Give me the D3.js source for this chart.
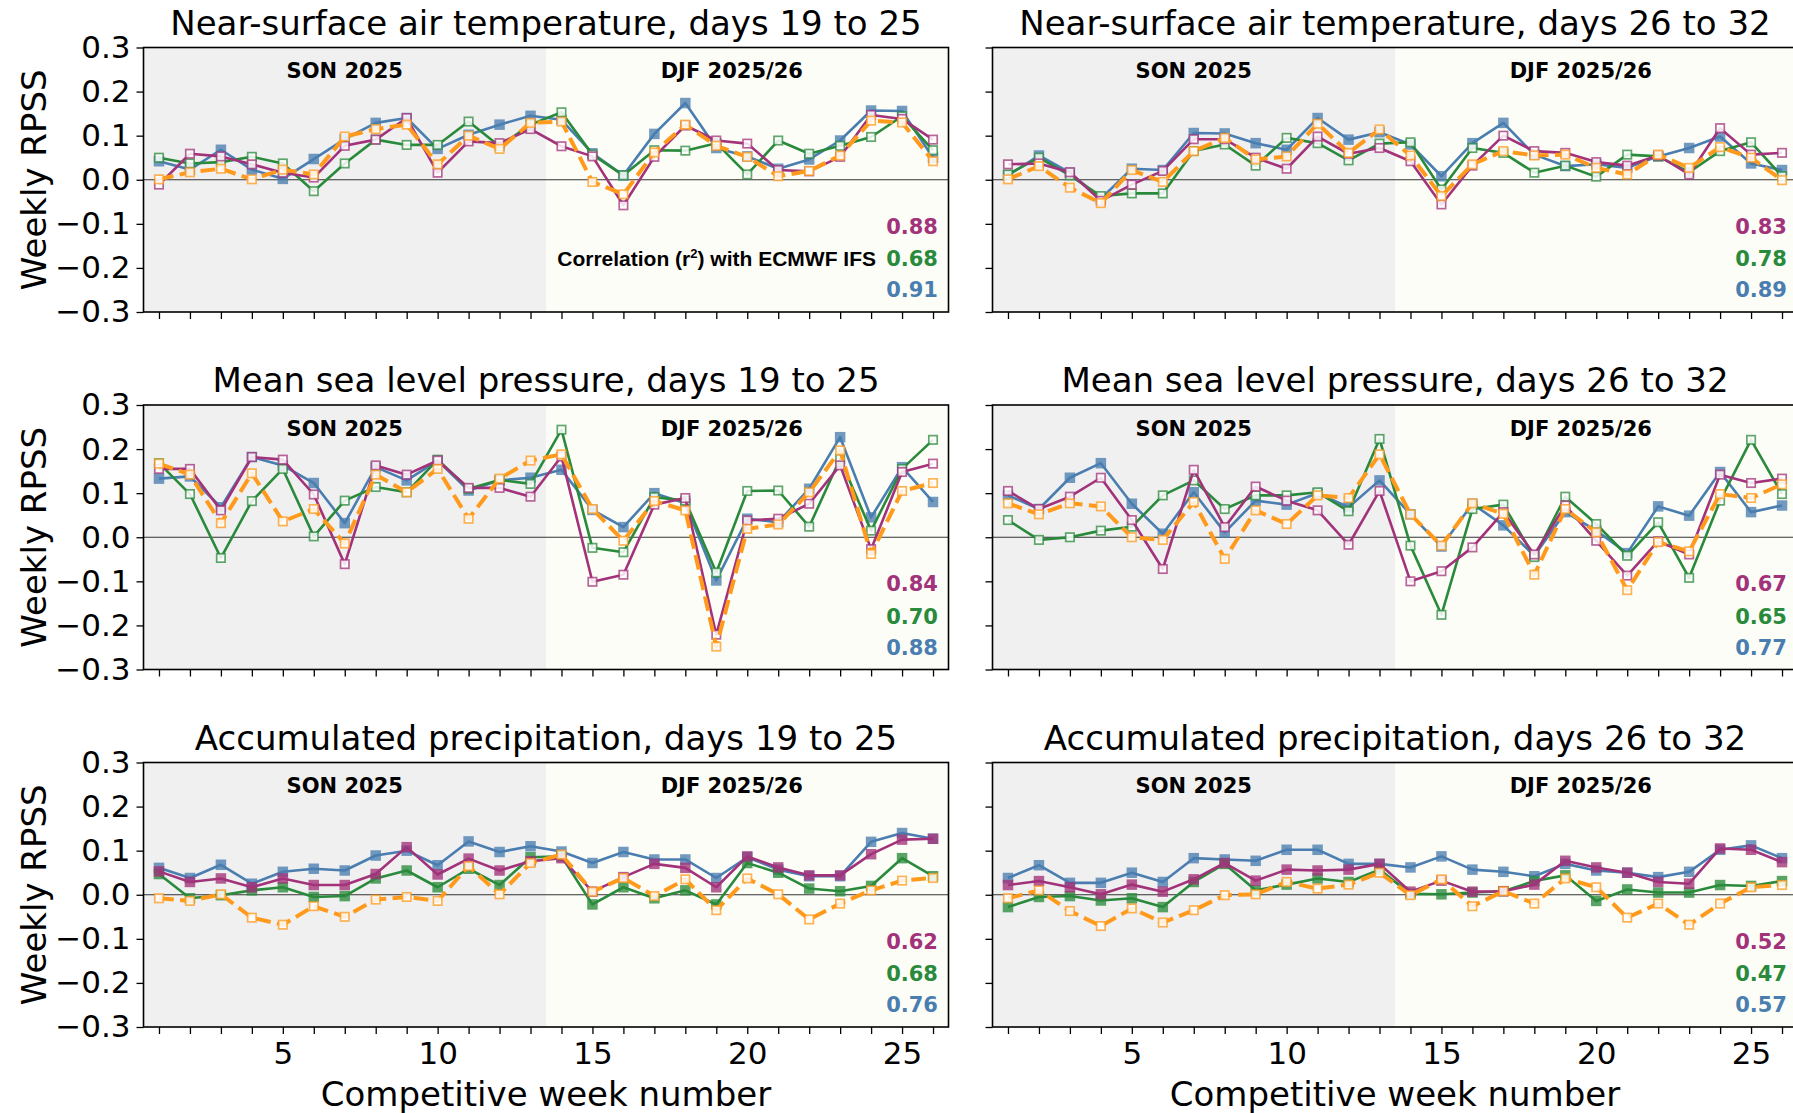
<!DOCTYPE html>
<html><head><meta charset="utf-8">
<script src="https://cdn.jsdelivr.net/npm/d3@7"></script>
<style>body{margin:0;overflow:hidden;background:#fff}</style>
</head><body>
<script>
// ---------- DATA ----------
const weeks = [1,2,3,4,5,6,7,8,9,10,11,12,13,14,15,16,17,18,19,20,21,22,23,24,25,26];
const titles = [
  "Near-surface air temperature, days 19 to 25","Near-surface air temperature, days 26 to 32",
  "Mean sea level pressure, days 19 to 25","Mean sea level pressure, days 26 to 32",
  "Accumulated precipitation, days 19 to 25","Accumulated precipitation, days 26 to 32"];
const yTicks = [-0.3,-0.2,-0.1,0.0,0.1,0.2,0.3];
const xTickLabels = [5,10,15,20,25];
const seasonLabels = ["SON 2025","DJF 2025/26"];
const seasonSplit = 13.5;

// Temperature, days 19-25
const temp1925_purple = [-0.011,0.059,0.053,0.035,0.016,0.005,0.077,0.091,0.14,0.016,0.087,0.083,0.115,0.076,0.053,-0.058,0.052,0.123,0.089,0.082,0.022,0.019,0.052,0.147,0.138,0.091];
const temp1925_green  = [0.05,0.037,0.04,0.052,0.037,-0.026,0.037,0.091,0.079,0.079,0.132,0.076,0.125,0.153,0.057,0.01,0.067,0.066,0.083,0.012,0.089,0.059,0.077,0.097,0.144,0.067];
const temp1925_blue   = [0.042,0.023,0.068,0.023,0.002,0.047,0.092,0.129,0.14,0.07,0.102,0.125,0.145,0.136,0.06,0.01,0.104,0.174,0.072,0.053,0.025,0.046,0.089,0.157,0.156,0.05];
const temp1925_orange = [0.001,0.017,0.025,0.001,0.023,0.012,0.098,0.115,0.125,0.035,0.1,0.07,0.129,0.132,-0.005,-0.033,0.062,0.125,0.077,0.052,0.008,0.02,0.055,0.134,0.13,0.042];
const temp1925_corr   = ["0.88","0.68","0.91"];

// Temperature, days 26-32
const temp2632_purple = [0.035,0.037,0.017,-0.048,-0.011,0.02,0.092,0.092,0.05,0.025,0.098,0.059,0.072,0.042,-0.056,0.032,0.1,0.065,0.061,0.04,0.032,0.055,0.012,0.117,0.057,0.061];
const temp2632_green  = [0.012,0.05,0.01,-0.037,-0.031,-0.031,0.065,0.08,0.032,0.095,0.083,0.044,0.082,0.085,-0.022,0.072,0.061,0.016,0.032,0.007,0.057,0.053,0.017,0.065,0.085,0.008];
const temp2632_blue   = [0.01,0.055,0.016,-0.043,0.025,0.022,0.106,0.105,0.083,0.068,0.14,0.091,0.108,0.08,0.008,0.083,0.129,0.057,0.031,0.035,0.027,0.053,0.072,0.098,0.037,0.022];
const temp2632_orange = [0.001,0.031,-0.018,-0.053,0.022,-0.005,0.065,0.095,0.046,0.053,0.127,0.061,0.114,0.055,-0.037,0.035,0.065,0.055,0.057,0.027,0.012,0.057,0.027,0.074,0.05,-0.001];
const temp2632_corr   = ["0.83","0.78","0.89"];

// MSLP, days 19-25
const mslp1925_purple = [0.155,0.155,0.061,0.182,0.176,0.097,-0.061,0.163,0.142,0.174,0.112,0.112,0.092,0.183,-0.101,-0.085,0.074,0.089,-0.221,0.038,0.042,0.076,0.163,-0.027,0.148,0.167];
const mslp1925_green  = [0.168,0.098,-0.047,0.082,0.155,0.002,0.083,0.114,0.102,0.176,0.11,0.13,0.121,0.244,-0.024,-0.034,0.091,0.083,-0.08,0.105,0.106,0.024,0.178,0.015,0.155,0.221];
const mslp1925_blue   = [0.133,0.138,0.068,0.182,0.163,0.123,0.032,0.159,0.129,0.174,0.106,0.129,0.135,0.153,0.062,0.023,0.1,0.077,-0.098,0.042,0.034,0.11,0.227,0.045,0.159,0.08];
const mslp1925_orange = [0.167,0.142,0.032,0.145,0.036,0.064,-0.014,0.142,0.102,0.155,0.042,0.133,0.174,0.188,0.064,-0.008,0.082,0.061,-0.248,0.019,0.029,0.102,0.197,-0.038,0.105,0.123];
const mslp1925_corr   = ["0.84","0.70","0.88"];

// MSLP, days 26-32
const mslp2632_purple = [0.105,0.064,0.092,0.135,0.039,-0.072,0.153,0.023,0.115,0.083,0.061,-0.017,0.105,-0.1,-0.077,-0.023,0.057,-0.039,0.072,-0.008,-0.087,-0.009,-0.039,0.142,0.123,0.133];
const mslp2632_green  = [0.039,-0.006,0.0,0.015,0.024,0.095,0.129,0.064,0.095,0.095,0.102,0.059,0.223,-0.019,-0.176,0.064,0.074,-0.045,0.092,0.03,-0.042,0.034,-0.092,0.083,0.221,0.098];
const mslp2632_blue   = [0.095,0.064,0.135,0.168,0.076,0.008,0.102,0.011,0.083,0.074,0.1,0.068,0.129,0.052,-0.021,0.076,0.027,-0.042,0.057,0.015,-0.036,0.07,0.049,0.148,0.057,0.072];
const mslp2632_orange = [0.077,0.052,0.077,0.07,0.0,-0.006,0.08,-0.049,0.061,0.03,0.095,0.089,0.188,0.052,-0.019,0.077,0.053,-0.085,0.064,0.011,-0.12,-0.011,-0.032,0.098,0.089,0.12];
const mslp2632_corr   = ["0.67","0.65","0.77"];

// Precipitation, days 19-25
const prec1925_purple = [0.053,0.029,0.037,0.017,0.037,0.022,0.022,0.047,0.108,0.046,0.082,0.055,0.076,0.083,0.007,0.04,0.07,0.061,0.017,0.087,0.062,0.044,0.044,0.092,0.125,0.127];
const prec1925_green  = [0.047,-0.008,-0.001,0.01,0.017,-0.005,-0.003,0.037,0.055,0.017,0.059,0.022,0.085,0.087,-0.022,0.017,-0.008,0.01,-0.022,0.072,0.05,0.014,0.008,0.02,0.083,0.042];
const prec1925_blue   = [0.061,0.038,0.068,0.025,0.052,0.059,0.055,0.089,0.1,0.067,0.121,0.097,0.11,0.098,0.072,0.097,0.08,0.08,0.038,0.085,0.057,0.042,0.042,0.12,0.14,0.127];
const prec1925_orange = [-0.008,-0.014,0.001,-0.052,-0.068,-0.026,-0.05,-0.011,-0.005,-0.014,0.065,0.001,0.072,0.091,0.007,0.038,-0.003,0.035,-0.035,0.037,0.001,-0.056,-0.02,0.01,0.032,0.038];
const prec1925_corr   = ["0.62","0.68","0.76"];

// Precipitation, days 26-32
const prec2632_purple = [0.022,0.031,0.017,0.001,0.023,0.007,0.035,0.072,0.032,0.057,0.055,0.057,0.07,0.007,0.032,0.007,0.008,0.023,0.077,0.062,0.05,0.029,0.025,0.105,0.102,0.074];
const prec2632_green  = [-0.028,-0.005,-0.003,-0.013,-0.008,-0.028,0.029,0.07,0.01,0.023,0.037,0.029,0.057,0.002,0.001,0.005,0.008,0.031,0.044,-0.014,0.012,0.005,0.005,0.022,0.02,0.031];
const prec2632_blue   = [0.038,0.067,0.027,0.027,0.05,0.029,0.083,0.08,0.077,0.102,0.102,0.07,0.07,0.062,0.087,0.057,0.052,0.042,0.07,0.055,0.05,0.04,0.052,0.102,0.112,0.083];
const prec2632_orange = [-0.008,0.01,-0.037,-0.071,-0.031,-0.063,-0.035,-0.001,0.001,0.029,0.014,0.023,0.05,-0.001,0.035,-0.026,0.008,-0.02,0.037,0.017,-0.052,-0.02,-0.068,-0.02,0.017,0.022];
const prec2632_corr   = ["0.52","0.47","0.57"];

// ---------- LAYOUT / STYLE ----------
const W = 1793, H = 1113;
const colX = [143.5, 992.5], rowY = [47.5, 405, 762.5];
const PW = 805, PH = 264.5;
const C = {purple:"#a2327a", green:"#2a8a3c", blue:"#4a7db0", orange:"#ff9a1c"};
const FONT = "'DejaVu Sans', sans-serif";

const panels = [
  {r:0,c:0,t:titles[0],s:{purple:temp1925_purple,green:temp1925_green,blue:temp1925_blue,orange:temp1925_orange},corr:temp1925_corr,filled:["blue"],note:true},
  {r:0,c:1,t:titles[1],s:{purple:temp2632_purple,green:temp2632_green,blue:temp2632_blue,orange:temp2632_orange},corr:temp2632_corr,filled:["blue"]},
  {r:1,c:0,t:titles[2],s:{purple:mslp1925_purple,green:mslp1925_green,blue:mslp1925_blue,orange:mslp1925_orange},corr:mslp1925_corr,filled:["blue"]},
  {r:1,c:1,t:titles[3],s:{purple:mslp2632_purple,green:mslp2632_green,blue:mslp2632_blue,orange:mslp2632_orange},corr:mslp2632_corr,filled:["blue"]},
  {r:2,c:0,t:titles[4],s:{purple:prec1925_purple,green:prec1925_green,blue:prec1925_blue,orange:prec1925_orange},corr:prec1925_corr,filled:["blue","purple","green"]},
  {r:2,c:1,t:titles[5],s:{purple:prec2632_purple,green:prec2632_green,blue:prec2632_blue,orange:prec2632_orange},corr:prec2632_corr,filled:["blue","purple","green"]}
];
const drawOrder = ["blue","green","purple","orange"];

const svg = d3.select("body").append("svg").attr("width",W).attr("height",H)
  .style("font-family",FONT);

const fmt = d3.format(".1f");

panels.forEach(p => {
  const x0 = colX[p.c], y0 = rowY[p.r];
  const x = d3.scaleLinear().domain([0.5,26.5]).range([x0, x0+PW]);
  const y = d3.scaleLinear().domain([-0.3,0.3]).range([y0+PH, y0]);
  const g = svg.append("g");

  // backgrounds
  g.append("rect").attr("x",x(0.5)).attr("y",y0).attr("width",x(seasonSplit)-x(0.5)).attr("height",PH).attr("fill","#f0f0f0");
  g.append("rect").attr("x",x(seasonSplit)).attr("y",y0).attr("width",x(26.5)-x(seasonSplit)).attr("height",PH).attr("fill","#fdfdf7");

  // zero line
  g.append("line").attr("x1",x(0.5)).attr("x2",x(26.5)).attr("y1",y(0)).attr("y2",y(0))
    .attr("stroke","#333").attr("stroke-width",1.2);

  // season labels
  g.append("text").attr("x",x(7)).attr("y",y0+30.5).attr("text-anchor","middle")
    .attr("font-weight","bold").attr("font-size",21).text(seasonLabels[0]);
  g.append("text").attr("x",x(19.5)).attr("y",y0+30.5).attr("text-anchor","middle")
    .attr("font-weight","bold").attr("font-size",21).text(seasonLabels[1]);

  // series
  drawOrder.forEach(k => {
    const vals = p.s[k];
    const pts = weeks.map((w,i)=>[w, vals[i]]);
    const line = d3.line().x(d=>x(d[0])).y(d=>y(d[1]));
    const path = g.append("path").datum(pts).attr("d",line).attr("fill","none")
      .attr("stroke",C[k]).attr("stroke-linejoin","round");
    if (k === "orange") path.attr("stroke-width",4).attr("stroke-dasharray","14.8 6.4");
    else path.attr("stroke-width",2.6);
    const filled = p.filled.includes(k);
    const sz = filled ? 10.5 : 8.4;
    g.append("g").selectAll("rect").data(pts).join("rect")
      .attr("x",d=>x(d[0])-sz/2).attr("y",d=>y(d[1])-sz/2)
      .attr("width",sz).attr("height",sz)
      .attr("fill", filled ? C[k] : "#fff")
      .attr("fill-opacity", filled ? 0.78 : 0.85)
      .attr("stroke",C[k]).attr("stroke-opacity",filled?0.0:0.75)
      .attr("stroke-width",filled?0:1.7);
  });

  // correlation values
  const cols = ["purple","green","blue"];
  const offs = [186.3, 218.6, 249.6];
  p.corr.forEach((v,i)=>{
    g.append("text").attr("x",x0+PW-10.5).attr("y",y0+offs[i]).attr("text-anchor","end")
      .attr("font-weight","bold").attr("font-size",21).attr("fill",C[cols[i]]).text(v);
  });
  if (p.note) {
    const t = g.append("text").attr("x",x0+PW-72.5).attr("y",y0+offs[1]).attr("text-anchor","end")
      .attr("font-family","'Liberation Sans', Arial, sans-serif").attr("font-weight","bold").attr("font-size",21);
    t.append("tspan").text("Correlation (r");
    t.append("tspan").attr("font-size",13).attr("dy",-8).text("2");
    t.append("tspan").attr("dy",8).text(") with ECMWF IFS");
  }

  // axes
  const ya = d3.axisLeft(y).tickValues(yTicks).tickSize(7).tickPadding(6)
    .tickFormat(p.c===0 ? (d=>fmt(d)) : (()=>""));
  const yg = svg.append("g").attr("transform",`translate(${x0},0)`).call(ya);
  const xa = d3.axisBottom(x).tickValues(weeks).tickSize(7).tickPadding(8)
    .tickFormat(d => (p.r===2 && xTickLabels.includes(d)) ? String(d) : "");
  const xg = svg.append("g").attr("transform",`translate(0,${y0+PH})`).call(xa);
  [yg,xg].forEach(a=>{
    a.select(".domain").remove();
    a.selectAll(".tick line").attr("stroke","#000").attr("stroke-width",1.3);
    a.selectAll("text").attr("font-family",FONT).attr("font-size",31).attr("fill","#000");
  });

  // spines
  svg.append("rect").attr("x",x0).attr("y",y0).attr("width",PW).attr("height",PH)
    .attr("fill","none").attr("stroke","#000").attr("stroke-width",1.6);

  // title
  svg.append("text").attr("x",x0+PW/2).attr("y",y0-13).attr("text-anchor","middle")
    .attr("font-size",34).text(p.t);

  if (p.c===0) {
    svg.append("text").attr("transform",`translate(46,${y0+PH/2}) rotate(-90)`)
      .attr("text-anchor","middle").attr("font-size",34).text("Weekly RPSS");
  }
  if (p.r===2) {
    svg.append("text").attr("x",x0+PW/2).attr("y",1106).attr("text-anchor","middle")
      .attr("font-size",34).text("Competitive week number");
  }
});
</script>
</body></html>
